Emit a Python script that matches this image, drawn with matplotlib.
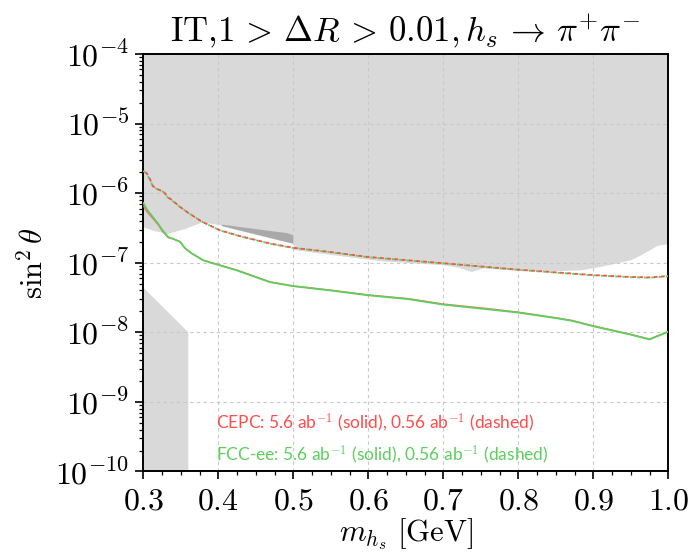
import numpy as np
import matplotlib
matplotlib.use("Agg")
import matplotlib.pyplot as plt
from matplotlib.ticker import LogLocator, MultipleLocator, NullFormatter, FixedLocator

plt.rcParams["mathtext.fontset"] = "cm"
plt.rcParams["font.family"] = ["DejaVu Serif"]

# Scalar mass grid and projected sensitivities (sin^2 theta)
m_solid = [0.300, 0.305, 0.313, 0.320, 0.326, 0.333, 0.340, 0.349, 0.356, 0.365,
           0.380, 0.400, 0.424, 0.450, 0.469, 0.500, 0.549, 0.600, 0.653, 0.700,
           0.758, 0.800, 0.850, 0.872, 0.900, 0.949, 0.975, 1.000]
fcc_solid = [7.2e-7, 5.8e-7, 4.5e-7, 3.6e-7, 2.9e-7, 2.35e-7, 2.2e-7, 2.0e-7, 1.6e-7, 1.35e-7,
             1.08e-7, 9.3e-8, 7.8e-8, 6.2e-8, 5.25e-8, 4.6e-8, 4.0e-8, 3.4e-8, 3.0e-8, 2.5e-8,
             2.15e-8, 1.92e-8, 1.6e-8, 1.46e-8, 1.22e-8, 9.3e-9, 7.9e-9, 1.02e-8]
cepc_solid = [6.5e-7, 5.4e-7, 4.3e-7, 3.5e-7, 2.8e-7, 2.3e-7, 2.2e-7, 2.0e-7, 1.6e-7, 1.36e-7,
              1.09e-7, 9.4e-8, 7.9e-8, 6.3e-8, 5.3e-8, 4.65e-8, 4.05e-8, 3.45e-8, 3.05e-8, 2.55e-8,
              2.2e-8, 1.95e-8, 1.62e-8, 1.48e-8, 1.24e-8, 9.4e-9, 8.0e-9, 1.03e-8]

m_dashed = [0.300, 0.305, 0.309, 0.313, 0.320, 0.327, 0.333, 0.338, 0.349, 0.360,
            0.378, 0.402, 0.429, 0.469, 0.500, 0.549, 0.600, 0.700, 0.800, 0.900,
            0.950, 0.975, 1.000]
fcc_dashed = [2.1e-6, 1.85e-6, 1.55e-6, 1.23e-6, 1.12e-6, 1.04e-6, 8.6e-7, 7.9e-7, 6.3e-7, 5.2e-7,
              3.9e-7, 2.92e-7, 2.4e-7, 1.88e-7, 1.63e-7, 1.42e-7, 1.2e-7, 9.8e-8, 7.9e-8, 6.6e-8,
              6.2e-8, 6.1e-8, 6.4e-8]
cepc_dashed = [2.2e-6, 1.9e-6, 1.58e-6, 1.25e-6, 1.13e-6, 1.05e-6, 8.7e-7, 8.0e-7, 6.35e-7, 5.2e-7,
               3.9e-7, 2.93e-7, 2.41e-7, 1.89e-7, 1.64e-7, 1.43e-7, 1.21e-7, 9.85e-8, 7.95e-8, 6.65e-8,
               6.25e-8, 6.15e-8, 6.45e-8]

# Existing exclusion (upper region) lower boundary
excl_m = [0.300, 0.315, 0.331, 0.355, 0.378, 0.402, 0.405, 0.500, 0.500, 0.520, 0.615,
          0.700, 0.720, 0.737, 0.753, 0.806, 0.853, 0.883, 0.901, 0.927, 0.949, 0.962,
          0.982, 0.985, 1.000]
excl_low = [3.26e-7, 2.9e-7, 2.62e-7, 3.1e-7, 3.85e-7, 3.53e-7, 3.37e-7, 1.88e-7, 1.55e-7, 1.45e-7, 1.07e-7,
            9.35e-8, 8.6e-8, 7.5e-8, 8.4e-8, 7.7e-8, 7.7e-8, 7.9e-8, 8.5e-8, 9.7e-8, 1.1e-7, 1.28e-7,
            1.7e-7, 1.78e-7, 1.88e-7]

# Darker excluded patch
patch_m = [0.405, 0.469, 0.4916, 0.500, 0.500, 0.405]
patch_s = [3.53e-7, 2.86e-7, 2.67e-7, 2.48e-7, 1.88e-7, 3.37e-7]

# Low-mass exclusion (lower left)
low_m = [0.300, 0.360, 0.360, 0.300]
low_s = [4.4e-8, 1.0e-8, 1.0e-10, 1.0e-10]

x_ticks = [0.3, 0.4, 0.5, 0.6, 0.7, 0.8, 0.9, 1.0]
y_ticks = [1e-10, 1e-9, 1e-8, 1e-7, 1e-6, 1e-5, 1e-4]

LIGHT = "#d9d9d9"
DARK = "#a9a9a9"
RED = "#ff4c4c"
GREEN = "#5ccf5c"

fig = plt.figure(figsize=(6.9, 5.55), dpi=100)
ax = fig.add_axes([0.2077, 0.1505, 0.9686 - 0.2077, 0.9027 - 0.1505])
ax.set_yscale("log")
ax.set_xlim(0.3, 1.0)
ax.set_ylim(1e-10, 1e-4)

ax.fill_between(excl_m, excl_low, 1e-4, color=LIGHT, lw=0, zorder=1)
ax.fill(patch_m, patch_s, color=DARK, lw=0, zorder=1.1)
ax.fill(low_m, low_s, color=LIGHT, lw=0, zorder=1)

ax.plot(m_solid, fcc_solid, color=GREEN, lw=1.3, zorder=3)
ax.plot(m_solid, cepc_solid, color=RED, lw=1.0, alpha=0.8, zorder=2.9)
ax.plot(m_dashed, fcc_dashed, color=GREEN, lw=1.3, ls=(0, (2, 2)), zorder=3)
ax.plot(m_dashed, cepc_dashed, color=RED, lw=1.3, ls=(2, (2, 2)), zorder=3)

ax.grid(True, which="major", color="#c8c8c8", ls=(0, (3, 3)), lw=0.8)

ax.xaxis.set_major_locator(FixedLocator(x_ticks))
ax.xaxis.set_minor_locator(MultipleLocator(0.025))
ax.set_xticklabels([f"${v:.1f}$" for v in x_ticks])
ax.yaxis.set_major_locator(FixedLocator(y_ticks))
ax.yaxis.set_minor_locator(LogLocator(base=10, subs=np.arange(2, 10), numticks=20))
ax.yaxis.set_minor_formatter(NullFormatter())
ax.set_yticklabels([f"$10^{{{int(np.log10(v))}}}$" for v in y_ticks])

ax.tick_params(which="major", direction="out", length=6, width=1.2, labelsize=23, pad=4)
ax.tick_params(which="minor", direction="out", length=3, width=0.9)
for s in ax.spines.values():
    s.set_linewidth(1.4)

ax.set_xlabel(r"$m_{h_s}\ [\mathrm{GeV}]$", fontsize=22, labelpad=0)
ax.set_ylabel(r"$\sin^2\theta$", fontsize=22, labelpad=4)
ax.set_title(r"$\mathrm{IT}{,}1\,>\,\Delta R\,>\,0.01, h_s \,\to\, \pi^{+}\pi^{-}$",
             fontsize=25, pad=8)

ax.text(0.1385, 0.116, "CEPC: 5.6 ab$^{-1}$ (solid), 0.56 ab$^{-1}$ (dashed)",
        transform=ax.transAxes, color=RED, fontsize=12.5, va="center",
        fontfamily=["Lato", "DejaVu Sans"])
ax.text(0.1385, 0.0395, "FCC-ee: 5.6 ab$^{-1}$ (solid), 0.56 ab$^{-1}$ (dashed)",
        transform=ax.transAxes, color=GREEN, fontsize=12.5, va="center",
        fontfamily=["Lato", "DejaVu Sans"])

fig.savefig("out.png", dpi=100)
